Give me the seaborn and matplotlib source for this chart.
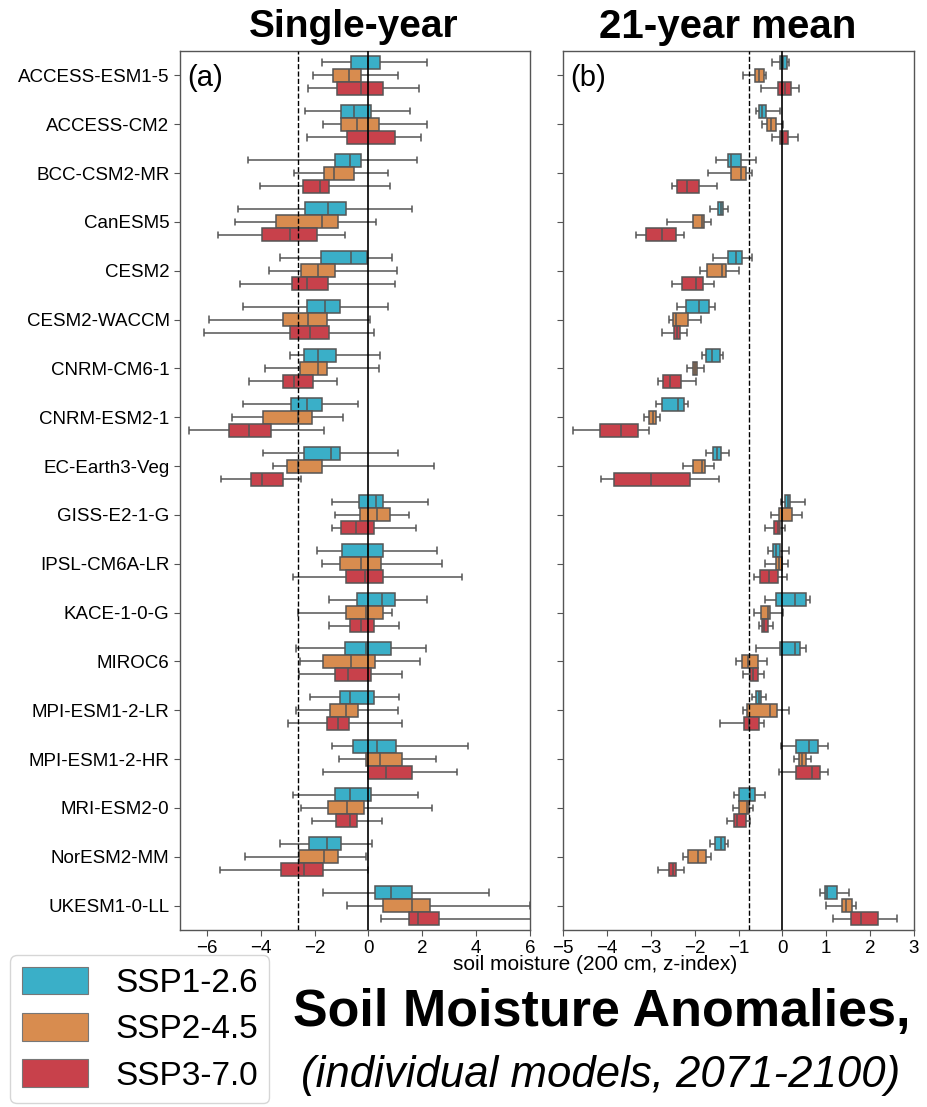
import numpy as np
import pandas as pd
import matplotlib.pyplot as plt
import seaborn as sns
from matplotlib.patches import Patch

# models (top to bottom) and scenarios
models = ['ACCESS-ESM1-5', 'ACCESS-CM2', 'BCC-CSM2-MR', 'CanESM5', 'CESM2',
          'CESM2-WACCM', 'CNRM-CM6-1', 'CNRM-ESM2-1', 'EC-Earth3-Veg',
          'GISS-E2-1-G', 'IPSL-CM6A-LR', 'KACE-1-0-G', 'MIROC6',
          'MPI-ESM1-2-LR', 'MPI-ESM1-2-HR', 'MRI-ESM2-0', 'NorESM2-MM',
          'UKESM1-0-LL']
scenarios = ['SSP1-2.6', 'SSP2-4.5', 'SSP3-7.0']
colors = ['#3AAFC8', '#D88C4F', '#C8414B']

# five-number summaries: [low whisker, q1, median, q3, high whisker]
# (a) single-year
single_ssp126 = [
    [-1.71, -0.63, -0.01, 0.44, 2.19],
    [-2.37, -1.02, -0.53, 0.10, 1.54],
    [-4.49, -1.26, -0.68, -0.27, 1.80],
    [-4.83, -2.34, -1.49, -0.84, 1.60],
    [-3.28, -1.76, -0.65, -0.04, 0.86],
    [-4.65, -2.27, -1.62, -1.04, 0.74],
    [-2.91, -2.39, -1.86, -1.22, 0.42],
    [-4.66, -2.86, -2.28, -1.71, -0.37],
    [-3.92, -2.39, -1.38, -1.06, 1.11],
    [-1.34, -0.36, 0.28, 0.54, 2.22],
    [-1.92, -0.97, 0.00, 0.53, 2.55],
    [-1.48, -0.44, 0.49, 0.99, 2.16],
    [-2.68, -0.86, -0.10, 0.85, 2.12],
    [-2.17, -1.04, -0.68, 0.22, 1.15],
    [-1.36, -0.57, 0.32, 1.01, 3.69],
    [-2.81, -1.25, -0.68, 0.10, 1.84],
    [-3.30, -2.22, -1.53, -1.01, 0.12],
    [-1.69, 0.23, 0.83, 1.60, 4.48],
]
single_ssp245 = [
    [-2.05, -1.31, -0.74, -0.27, 1.09],
    [-1.68, -1.02, -0.42, 0.38, 2.19],
    [-2.77, -1.66, -1.28, -0.54, 0.74],
    [-4.94, -3.45, -1.71, -1.12, 0.28],
    [-3.71, -2.50, -1.86, -1.23, 1.06],
    [-5.93, -3.16, -2.23, -1.54, 0.05],
    [-3.85, -2.55, -1.87, -1.53, 0.39],
    [-5.07, -3.91, -2.63, -2.08, -0.94],
    [-3.55, -3.02, -2.60, -1.71, 2.44],
    [-1.26, -0.33, 0.32, 0.79, 1.49],
    [-1.71, -1.06, -0.27, 0.47, 2.73],
    [-2.63, -0.84, -0.09, 0.54, 0.89],
    [-2.53, -1.70, -0.65, 0.25, 1.92],
    [-2.68, -1.42, -0.84, -0.38, 1.09],
    [-1.10, -0.09, 0.44, 1.25, 2.50],
    [-2.50, -1.50, -0.79, -0.15, 2.37],
    [-4.59, -2.59, -1.65, -1.13, -0.10],
    [-0.80, 0.54, 1.60, 2.27, 6.00],
]
single_ssp370 = [
    [-2.24, -1.17, -0.28, 0.55, 1.86],
    [-2.28, -0.80, 0.00, 1.00, 1.96],
    [-4.02, -2.42, -1.80, -1.46, 0.79],
    [-5.60, -3.96, -2.93, -1.92, -0.86],
    [-4.76, -2.84, -2.28, -1.49, 0.97],
    [-6.09, -2.92, -2.17, -1.46, 0.21],
    [-4.45, -3.18, -2.76, -2.06, -1.18],
    [-6.67, -5.18, -4.45, -3.63, -1.64],
    [-5.46, -4.38, -3.96, -3.19, -2.50],
    [-1.36, -1.02, -0.46, 0.20, 1.78],
    [-2.82, -0.83, -0.12, 0.55, 3.48],
    [-1.46, -0.69, -0.27, 0.20, 1.13],
    [-2.59, -1.25, -0.76, 0.10, 1.26],
    [-3.00, -1.55, -1.13, -0.72, 1.23],
    [-1.68, 0.00, 0.65, 1.62, 3.29],
    [-2.10, -1.21, -0.69, -0.44, 0.49],
    [-5.50, -3.26, -2.39, -1.68, 0.00],
    [0.47, 1.49, 1.84, 2.61, 6.50],
]
# (b) 21-year mean
mean21_ssp126 = [
    [-0.24, -0.05, 0.02, 0.11, 0.15],
    [-0.59, -0.54, -0.46, -0.37, -0.05],
    [-1.52, -1.25, -1.18, -0.95, -0.59],
    [-1.66, -1.46, -1.40, -1.35, -1.23],
    [-1.59, -1.25, -1.06, -0.93, -0.69],
    [-2.40, -2.19, -1.91, -1.67, -1.53],
    [-1.83, -1.74, -1.61, -1.42, -1.35],
    [-2.89, -2.74, -2.39, -2.25, -2.14],
    [-1.75, -1.57, -1.50, -1.40, -1.22],
    [-0.04, 0.07, 0.12, 0.17, 0.51],
    [-0.33, -0.22, -0.14, -0.05, 0.14],
    [-0.40, -0.14, 0.28, 0.54, 0.62],
    [-0.61, -0.05, 0.29, 0.41, 0.54],
    [-0.70, -0.59, -0.54, -0.49, -0.38],
    [-0.03, 0.30, 0.60, 0.82, 1.05],
    [-1.10, -0.98, -0.74, -0.62, -0.40],
    [-1.65, -1.54, -1.41, -1.31, -1.25],
    [0.85, 0.98, 1.02, 1.24, 1.51],
]
mean21_ssp245 = [
    [-0.90, -0.62, -0.53, -0.43, -0.37],
    [-0.47, -0.36, -0.25, -0.14, 0.02],
    [-1.69, -1.16, -0.94, -0.84, -0.69],
    [-2.62, -2.03, -1.84, -1.79, -1.62],
    [-1.87, -1.71, -1.38, -1.28, -1.00],
    [-2.59, -2.49, -2.43, -2.15, -1.86],
    [-2.17, -2.04, -2.00, -1.95, -1.79],
    [-3.15, -3.03, -2.96, -2.87, -2.78],
    [-2.27, -2.04, -1.83, -1.77, -1.55],
    [-0.27, -0.08, 0.00, 0.22, 0.45],
    [-0.40, -0.14, -0.07, 0.00, 0.13],
    [-0.64, -0.49, -0.33, -0.29, 0.02],
    [-1.06, -0.93, -0.78, -0.55, -0.36],
    [-0.90, -0.81, -0.29, -0.13, 0.14],
    [0.27, 0.37, 0.44, 0.53, 0.65],
    [-1.13, -1.00, -0.81, -0.76, -0.68],
    [-2.27, -2.14, -1.93, -1.75, -1.62],
    [1.00, 1.35, 1.45, 1.59, 1.67],
]
mean21_ssp370 = [
    [-0.49, -0.11, 0.07, 0.19, 0.39],
    [-0.24, -0.05, 0.02, 0.13, 0.35],
    [-2.51, -2.40, -2.18, -1.89, -1.50],
    [-3.33, -3.10, -2.75, -2.43, -2.24],
    [-2.51, -2.28, -1.98, -1.81, -1.56],
    [-2.75, -2.46, -2.40, -2.33, -2.17],
    [-2.84, -2.71, -2.56, -2.32, -1.96],
    [-4.77, -4.16, -3.68, -3.29, -3.04],
    [-4.13, -3.83, -3.00, -2.11, -1.45],
    [-0.39, -0.18, -0.11, -0.06, 0.05],
    [-0.65, -0.51, -0.30, -0.11, 0.11],
    [-0.53, -0.47, -0.43, -0.33, -0.22],
    [-0.90, -0.73, -0.66, -0.56, -0.43],
    [-1.42, -0.88, -0.76, -0.53, -0.42],
    [-0.08, 0.30, 0.68, 0.86, 1.03],
    [-1.26, -1.10, -1.03, -0.84, -0.74],
    [-2.84, -2.58, -2.49, -2.42, -2.25],
    [1.16, 1.57, 1.80, 2.17, 2.62],
]

single_ref = -2.6
mean21_ref = -0.76


def long_form(series):
    rows = []
    for scen, boxes in zip(scenarios, series):
        for model, five in zip(models, boxes):
            for v in five:
                rows.append((model, scen, v))
    return pd.DataFrame(rows, columns=['model', 'scenario', 'value'])


df_single = long_form([single_ssp126, single_ssp245, single_ssp370])
df_mean21 = long_form([mean21_ssp126, mean21_ssp245, mean21_ssp370])

sns.set_style('ticks')
plt.rcParams['font.family'] = ['Liberation Sans', 'DejaVu Sans']
plt.rcParams['text.color'] = 'black'
plt.rcParams['xtick.labelcolor'] = 'black'
plt.rcParams['ytick.labelcolor'] = 'black'

W, H = 928, 1107
fig = plt.figure(figsize=(W / 100, H / 100), dpi=100)
ax_a = fig.add_axes([180 / W, 1 - 930 / H, 350 / W, 879 / H])
ax_b = fig.add_axes([563 / W, 1 - 930 / H, 351 / W, 879 / H])

panels = [
    (ax_a, df_single, (-7, 6), single_ref, np.arange(-6, 7, 2), '(a)'),
    (ax_b, df_mean21, (-5, 3), mean21_ref, np.arange(-5, 4, 1), '(b)'),
]
for ax, df, xlim, ref, ticks, tag in panels:
    sns.boxplot(data=df, x='value', y='model', hue='scenario', order=models,
                hue_order=scenarios, palette=colors, saturation=1,
                whis=(0, 100), width=0.8, gap=0, linewidth=1.1,
                linecolor='#555555', showfliers=False, legend=False, ax=ax)
    ax.axvline(0, color='black', lw=1.2, zorder=5)
    ax.axvline(ref, color='black', lw=1.0, ls='--', zorder=5)
    ax.set_xlim(*xlim)
    ax.set_xticks(ticks)
    ax.set_xlabel('')
    ax.set_ylabel('')
    ax.tick_params(axis='both', labelsize=13.5, length=4, width=0.8, color='#555555')
    for s in ax.spines.values():
        s.set_color('#555555')
        s.set_linewidth(1.0)
    ax.text(0.02, 0.985, tag, transform=ax.transAxes, fontsize=21, va='top', ha='left')

ax_b.set_yticklabels([])

fig.text(354 / W, 1 - 27 / H, 'Single-year', ha='center', va='center',
         fontsize=28, fontweight='bold')
fig.text(728 / W, 1 - 27 / H, '21-year mean', ha='center', va='center',
         fontsize=29, fontweight='bold')
fig.text(595 / W, 1 - 965 / H, 'soil moisture (200 cm, z-index)', ha='center',
         va='center', fontsize=15)
fig.text(602 / W, 1 - 1013 / H, 'Soil Moisture Anomalies,', ha='center',
         va='center', fontsize=37.5, fontweight='bold')
fig.text(601 / W, 1 - 1075 / H, '(individual models, 2071-2100)', ha='center',
         va='center', fontsize=31.5, style='italic')

handles = [Patch(facecolor=c, edgecolor='#777777', linewidth=0.8) for c in colors]
fig.legend(handles, scenarios, loc='upper left', bbox_to_anchor=(10 / W, 1 - 955 / H),
           fontsize=24, handlelength=2.0, handleheight=0.9, labelspacing=0.42,
           handletextpad=0.8, borderpad=0.35, borderaxespad=0, frameon=True,
           fancybox=True, edgecolor='#cccccc')

fig.savefig('out.png', dpi=100)
